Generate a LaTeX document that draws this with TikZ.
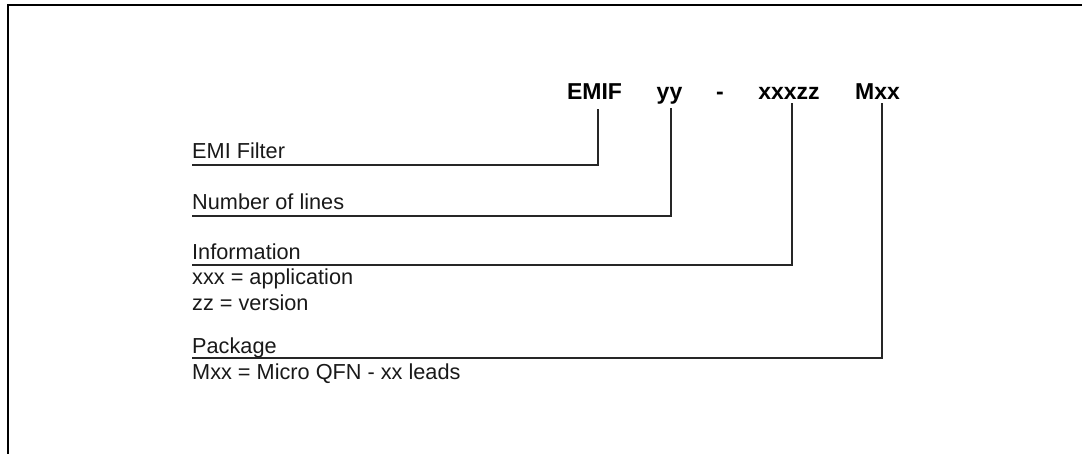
\documentclass[tikz,border=0pt]{standalone}
\usepackage{fontspec}
\setmainfont{Liberation Sans}
\begin{document}
\begin{tikzpicture}[x=1pt,y=-1pt,
  frame/.style={line width=2.4pt,black},
  conn/.style={line width=1.6pt,black!85,line cap=rect},
  code/.style={anchor=base,inner sep=0pt,font=\fontsize{23}{28}\selectfont\bfseries},
  lbl/.style={anchor=base west,inner sep=0pt,font=\fontsize{21.7}{26}\selectfont,text=black!90}]
\useasboundingbox (0,0) rectangle (1082,454);
\draw[frame] (8,454) -- (8,5) -- (1082,5);
% part number
\node[code] (emif) at (594.5,100) {EMIF};
\node[code] (yy) at (669.5,100) {yy};
\node[code] (dash) at (720,100) {-};
\node[code] (xz) at (789,100) {xxxzz};
\node[code] (mxx) at (877.5,100) {Mxx};
% labels
\node[lbl] (l1) at (192,159) {EMI Filter};
\node[lbl] (l2) at (192,210) {Number of lines};
\node[lbl] (l3) at (192,260) {Information};
\node[lbl] (l3a) at (192,285) {xxx = application};
\node[lbl] (l3b) at (192,311) {zz = version};
\node[lbl] (l4) at (192,354) {Package};
\node[lbl] (l4a) at (192,380) {Mxx = Micro QFN - xx leads};
% connector coordinates
\coordinate (t1) at (598,110);
\coordinate (t2) at (671,109);
\coordinate (t3) at (792,104);
\coordinate (t4) at (882,104);
\coordinate (e1) at (193,165);
\coordinate (e2) at (193,216);
\coordinate (e3) at (193,265);
\coordinate (e4) at (193,358);
\draw[conn] (t1) |- (e1);
\draw[conn] (t2) |- (e2);
\draw[conn] (t3) |- (e3);
\draw[conn] (t4) |- (e4);
\end{tikzpicture}
\end{document}
